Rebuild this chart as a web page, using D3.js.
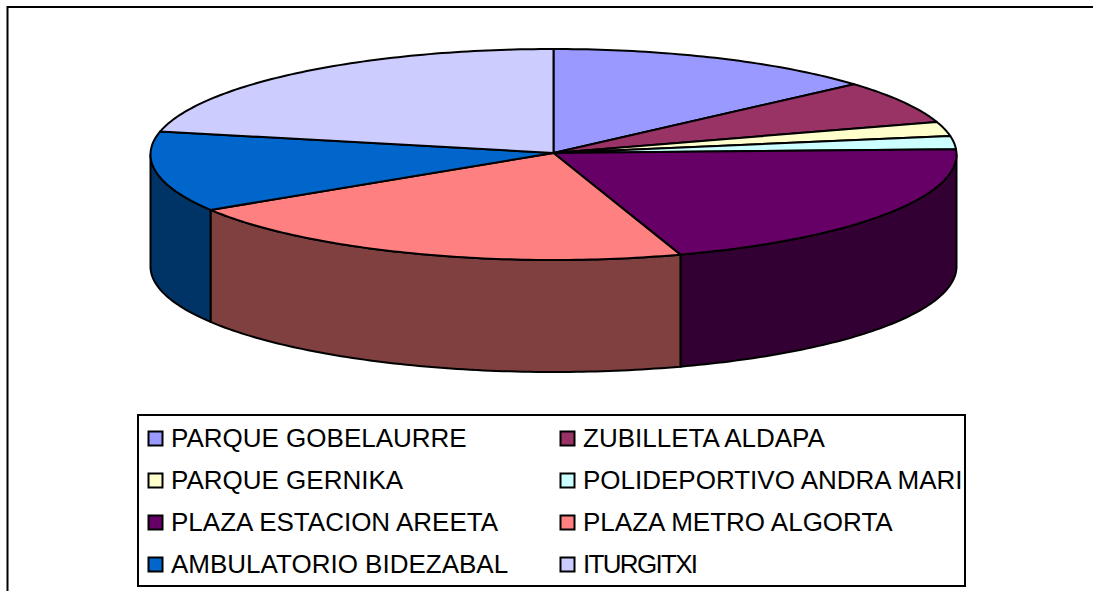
<!DOCTYPE html>
<html>
<head>
<meta charset="utf-8">
<script src="https://cdn.jsdelivr.net/npm/d3@7"></script>
<style>
  html, body { margin: 0; background: #fff; }
  svg { display: block; }
  text { font-family: "Liberation Sans", Arial, sans-serif; font-size: 26px; fill: #000; }
</style>
</head>
<body>
<svg id="chart" width="1093" height="591"></svg>
<script>
const categories = ["PARQUE GOBELAURRE", "ZUBILLETA ALDAPA", "PARQUE GERNIKA", "POLIDEPORTIVO ANDRA MARI",
  "PLAZA ESTACION AREETA", "PLAZA METRO ALGORTA", "AMBULATORIO BIDEZABAL", "ITURGITXI"];
const values = [13.4, 6.6, 2.2, 2.0, 20.7, 21.3, 12.3, 21.5];
const topColors = ["#9999ff", "#993366", "#ffffcc", "#ccffff", "#660066", "#ff8080", "#0066cc", "#ccccff"];
const sideColors = ["#4d4d80", "#4d1a33", "#808066", "#668080", "#330033", "#804040", "#003366", "#666680"];

const cx = 553.5, cy = 154.5, rx = 403, ry = 105.5, depth = 112;

const svg = d3.select("#chart");

// chart frame, left and top only, runs off the picture
svg.append("path")
  .attr("d", "M7.5,600V7H1100")
  .attr("fill", "none")
  .attr("stroke", "#000")
  .attr("stroke-width", 2);

const pie = d3.pie().value(d => d).sort(null);
const slices = pie(values);

// flattened pie: unit circle angles squeezed into the ellipse
const px = a => cx + rx * Math.sin(a);
const py = a => cy - ry * Math.cos(a);
const line = d3.line();

function arcPoints(a0, a1, dy) {
  const pts = [];
  const n = Math.max(2, Math.ceil((a1 - a0) * 60));
  for (let i = 0; i <= n; i++) {
    const a = a0 + (a1 - a0) * i / n;
    pts.push([px(a), py(a) + dy]);
  }
  return pts;
}

// side walls only exist on the front half of the ellipse
const pieG = svg.append("g").attr("stroke", "#000").attr("stroke-width", 2).attr("stroke-linejoin", "round");

pieG.selectAll("path.side")
  .data(slices.filter(d => d.endAngle > Math.PI / 2 && d.startAngle < Math.PI * 1.5))
  .join("path")
  .attr("class", "side")
  .attr("fill", d => sideColors[d.index])
  .attr("d", d => {
    const a0 = Math.max(d.startAngle, Math.PI / 2);
    const a1 = Math.min(d.endAngle, Math.PI * 1.5);
    const front = arcPoints(a0, a1, 0);
    const back = arcPoints(a0, a1, depth).reverse();
    return line(front.concat(back)) + "Z";
  });

pieG.selectAll("path.top")
  .data(slices)
  .join("path")
  .attr("class", "top")
  .attr("fill", d => topColors[d.index])
  .attr("d", d => line([[cx, cy - 1.5]].concat(arcPoints(d.startAngle, d.endAngle, 0))) + "Z");

// legend
const legendX = 138, legendY = 415, legendW = 827, legendH = 171;
svg.append("rect")
  .attr("x", legendX).attr("y", legendY)
  .attr("width", legendW).attr("height", legendH)
  .attr("fill", "#fff").attr("stroke", "#000").attr("stroke-width", 2);

const colX = d3.scaleBand().domain([0, 1]).range([148, 972]);
const rowY = d3.scalePoint().domain([0, 1, 2, 3]).range([438, 564]);

const items = svg.selectAll("g.item")
  .data(categories)
  .join("g")
  .attr("class", "item")
  .attr("transform", (d, i) => `translate(${colX(i % 2)},${rowY(Math.floor(i / 2))})`);

items.append("rect")
  .attr("x", 0.5).attr("y", -6.5)
  .attr("width", 14).attr("height", 14)
  .attr("fill", (d, i) => topColors[i])
  .attr("stroke", "#000").attr("stroke-width", 2);

// ITURGITXI is set tighter in the original
items.append("text")
  .attr("x", 23).attr("y", 8.5)
  .attr("textLength", d => d === "ITURGITXI" ? 115 : null)
  .text(d => d);
</script>
</body>
</html>
